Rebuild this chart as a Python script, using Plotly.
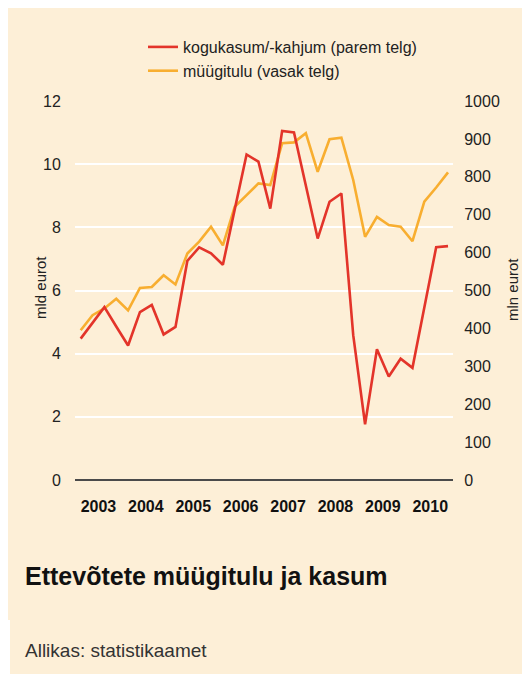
import plotly.graph_objects as go

# Quarterly data 2003Q1 .. 2010Q4
quarters = [f"{y} Q{q}" for y in range(2003, 2011) for q in range(1, 5)]
years = ["2003", "2004", "2005", "2006", "2007", "2008", "2009", "2010"]

# kogukasum/-kahjum, mln eurot (right axis)
profit = [373, 414, 456, 405, 355, 443, 462, 384,
          404, 578, 614, 598, 568, 714, 859, 840,
          716, 921, 917, 777, 637, 734, 756, 382,
          147, 345, 273, 320, 296, 455, 614, 617]

# müügitulu, mld eurot (left axis)
sales = [4.74, 5.22, 5.43, 5.74, 5.37, 6.08, 6.11, 6.48,
         6.19, 7.17, 7.55, 8.02, 7.43, 8.65, 9.02, 9.39,
         9.34, 10.66, 10.69, 10.98, 9.76, 10.79, 10.84, 9.50,
         7.70, 8.33, 8.07, 8.02, 7.56, 8.81, 9.26, 9.74]

left_ticks = [0, 2, 4, 6, 8, 10, 12]
right_ticks = [0, 100, 200, 300, 400, 500, 600, 700, 800, 900, 1000]

BG = "#FDEFD7"
RED = "#E3342A"
ORANGE = "#F8AE30"
FONT = "Liberation Sans, Arial, sans-serif"

idx = list(range(len(quarters)))

fig = go.Figure()
fig.add_trace(go.Scatter(x=idx, y=profit, mode="lines", name="kogukasum/-kahjum (parem telg)",
                         line=dict(color=RED, width=2.6), yaxis="y2", text=quarters))
fig.add_trace(go.Scatter(x=idx, y=sales, mode="lines", name="müügitulu (vasak telg)",
                         line=dict(color=ORANGE, width=2.6), yaxis="y", text=quarters))

# page offset of the figure (body margin)
OFF = 8
W, H = 530 - OFF, 674 - OFF
L, R, T, B = 67, 77, 93, 194
pw = W - L - R
ph = H - T - B


def px(x):  # page x -> paper
    return (x - OFF - L) / pw


def py(y):  # page y -> paper
    return (H - B - (y - OFF)) / ph


shapes = [
    dict(type="rect", xref="paper", yref="paper", x0=px(8), x1=px(530), y0=py(620), y1=py(8),
         fillcolor=BG, line=dict(width=0), layer="below"),
    dict(type="rect", xref="paper", yref="paper", x0=px(10), x1=px(530), y0=py(674), y1=py(620),
         fillcolor=BG, line=dict(width=0), layer="below"),
]

annotations = [
    dict(text="<b>Ettevõtete müügitulu ja kasum</b>", xref="paper", yref="paper",
         x=px(23), y=py(576), xanchor="left", yanchor="middle", showarrow=False,
         font=dict(family=FONT, size=25, color="#111111")),
    dict(text="Allikas: statistikaamet", xref="paper", yref="paper",
         x=px(23), y=py(650), xanchor="left", yanchor="middle", showarrow=False,
         font=dict(family=FONT, size=19, color="#333333")),
    dict(text="mld eurot", xref="paper", yref="paper", x=px(40), y=py(288),
         xanchor="center", yanchor="middle", textangle=-90, showarrow=False,
         font=dict(family=FONT, size=15, color="#222222")),
    dict(text="mln eurot", xref="paper", yref="paper", x=px(512), y=py(290),
         xanchor="center", yanchor="middle", textangle=-90, showarrow=False,
         font=dict(family=FONT, size=15, color="#222222")),
]

fig.update_layout(
    width=W, height=H,
    margin=dict(l=L, r=R, t=T, b=B, autoexpand=False),
    paper_bgcolor="white",
    plot_bgcolor="rgba(0,0,0,0)",
    font=dict(family=FONT, size=16, color="#222222"),
    showlegend=True,
    legend=dict(x=px(143), y=py(30), xanchor="left", yanchor="top",
                bgcolor="rgba(0,0,0,0)", font=dict(size=16, color="#222222"),
                itemwidth=30, tracegroupgap=0),
    shapes=shapes,
    annotations=annotations,
    xaxis=dict(range=[-0.48, 31.42], tickvals=[1.5 + 4 * k for k in range(8)],
               ticktext=[f"<b>{y}</b>" for y in years], showgrid=False, zeroline=False,
               showline=False, ticks="outside", ticklen=12, tickcolor="rgba(0,0,0,0)",
               tickfont=dict(size=16, color="#111111"), fixedrange=True),
    yaxis=dict(range=[0, 12], tickvals=left_ticks, showgrid=True, gridcolor="white",
               gridwidth=1.6, zeroline=True, zerolinecolor="#4a4a4a", zerolinewidth=1.6,
               ticks="outside", ticklen=10, tickcolor="rgba(0,0,0,0)",
               tickfont=dict(size=16)),
    yaxis2=dict(range=[0, 1000], tickvals=right_ticks, overlaying="y", side="right",
                showgrid=False, zeroline=False, ticks="outside", ticklen=7,
                tickcolor="rgba(0,0,0,0)", tickfont=dict(size=16)),
)

fig.write_html("out.html")
